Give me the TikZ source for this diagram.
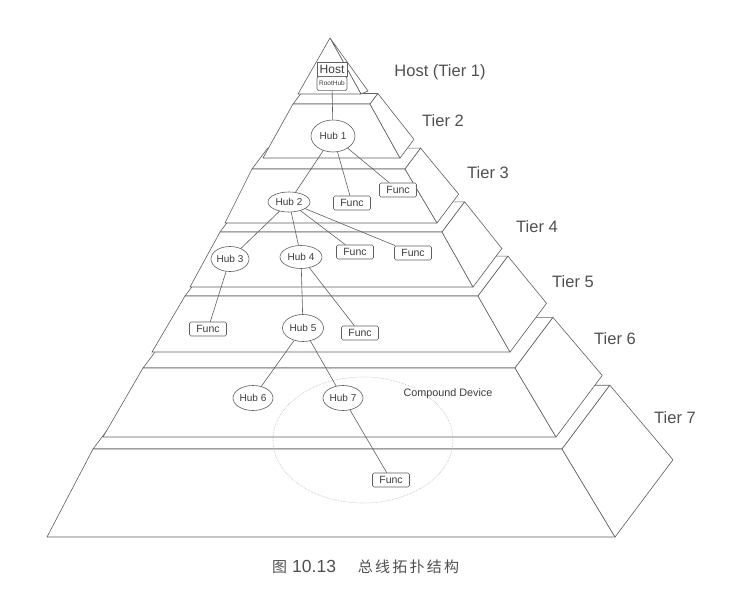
\documentclass[tikz,border=0pt]{standalone}
\usepackage{fontspec}
\setmainfont{Liberation Sans}
\newfontfamily\cjkfont[LetterSpace=15]{Noto Sans CJK SC}
\definecolor{linegray}{RGB}{95,95,95}
\definecolor{textgray}{RGB}{60,60,60}
\definecolor{labelgray}{RGB}{80,80,80}
\definecolor{ringgray}{RGB}{185,185,185}
\usepackage{tikz}
\usetikzlibrary{shapes,arrows,positioning,calc}

\begin{document}
\begin{tikzpicture}[x=1pt, y=-1pt, line join=round,
    every node/.style={font=\fontsize{10}{12}\selectfont, text=textgray},
    slab/.style={draw=linegray, fill=white, line width=0.6pt},
    hubnode/.style={ellipse, draw=linegray, fill=white, line width=0.6pt, minimum width=40pt, minimum height=24pt, inner sep=0pt},
    funcnode/.style={rectangle, draw=linegray, fill=white, rounded corners=1.5pt, line width=0.6pt, minimum width=37pt, minimum height=14pt, inner sep=0pt, font=\fontsize{10.5}{12}\selectfont},
    tierlabel/.style={font=\fontsize{16.5}{18}\selectfont, text=labelgray},
    link/.style={draw=linegray, line width=0.6pt}]
    \fill[white] (0,0) rectangle (730,593);
    \useasboundingbox (0,0) rectangle (730,593);

    % Tiers, bottom first: front top y, front bottom y, top left/right x, bottom left/right x
    \foreach \yt/\yb/\xlt/\xrt/\xlb/\xrb in {449/537/93/562/47/615, 368/437/143/515/103/556, 296/352/185/478/152/510, 232/287/220/442/190/473, 169/223/252/405/225/437, 104/158/293/370/263/400}{
        \pgfmathsetmacro{\wt}{\xrt-\xlt}
        \pgfmathsetmacro{\wb}{\xrb-\xlb}
        \draw[slab] (\xlt,\yt) -- ({\xlt+0.102*\wt},{\yt-0.136*\wt}) -- ({\xrt+0.102*\wt},{\yt-0.136*\wt}) -- (\xrt,\yt) -- cycle;
        \draw[slab] (\xlt,\yt) -- (\xrt,\yt) -- (\xrb,\yb) -- (\xlb,\yb) -- cycle;
        \draw[slab] (\xrt,\yt) -- ({\xrt+0.102*\wt},{\yt-0.136*\wt}) -- ({\xrb+0.102*\wb},{\yb-0.136*\wb}) -- (\xrb,\yb) -- cycle;
    }
    % Top of the pyramid
    \draw[slab] (330,38) -- (368,91) -- (361,94) -- cycle;
    \draw[slab] (330,38) -- (361,94) -- (298,94) -- cycle;

    % Compound device ring
    \draw[ringgray, densely dotted, line width=0.6pt] (363,440) ellipse [x radius=90, y radius=63];
    \node[font=\fontsize{10.8}{12}\selectfont] (compound) at (448,394) {Compound Device};

    % Host box
    \node[draw=linegray, fill=white, line width=0.6pt, minimum width=30pt, minimum height=14pt, inner sep=0pt, font=\fontsize{12}{13}\selectfont] (host) at (332,69) {Host};
    \node[draw=linegray, fill=white, line width=0.6pt, rounded corners=2pt, minimum width=30pt, minimum height=14pt, inner sep=0pt, font=\fontsize{6.5}{7}\selectfont, below=0pt of host] (roothub) {RootHub};

    % Hubs
    \node[hubnode, minimum width=44pt, minimum height=32pt] (hub1) at (333,136) {Hub 1};
    \node[hubnode, minimum width=42pt, minimum height=20pt] (hub2) at (289,202) {Hub 2};
    \node[hubnode, minimum width=38pt, minimum height=25pt] (hub3) at (230,259) {Hub 3};
    \node[hubnode, minimum width=42pt, minimum height=23pt] (hub4) at (301,257) {Hub 4};
    \node[hubnode, minimum width=41pt, minimum height=27pt] (hub5) at (303,328) {Hub 5};
    \node[hubnode, minimum height=25pt] (hub6) at (253,398) {Hub 6};
    \node[hubnode, minimum height=25pt] (hub7) at (343,398) {Hub 7};

    % Functions
    \node[funcnode] (func3a) at (352,203) {Func};
    \node[funcnode] (func3b) at (398,190) {Func};
    \node[funcnode] (func4a) at (355,252) {Func};
    \node[funcnode] (func4b) at (413,253) {Func};
    \node[funcnode] (func5a) at (208,329) {Func};
    \node[funcnode] (func5b) at (360,333) {Func};
    \node[funcnode] (func7) at (391,480) {Func};

    % Bus links
    \draw[link] (roothub) -- (hub1);
    \draw[link] (hub1) -- (hub2);
    \draw[link] (hub1) -- (func3a);
    \draw[link] (hub1) -- (func3b);
    \draw[link] (hub2) -- (hub3);
    \draw[link] (hub2) -- (hub4);
    \draw[link] (hub2) -- (func4a);
    \draw[link] (hub2) -- (func4b);
    \draw[link] (hub3) -- (func5a);
    \draw[link] (hub4) -- (hub5);
    \draw[link] (hub4) -- (func5b);
    \draw[link] (hub5) -- (hub6);
    \draw[link] (hub5) -- (hub7);
    \draw[link] (hub7) -- (func7);

    % Tier labels
    \node[tierlabel] (tier1) at (440,72) {Host (Tier 1)};
    \node[tierlabel] (tier2) at (443,121) {Tier 2};
    \node[tierlabel] (tier3) at (488,173) {Tier 3};
    \node[tierlabel] (tier4) at (537,227) {Tier 4};
    \node[tierlabel] (tier5) at (573,282) {Tier 5};
    \node[tierlabel] (tier6) at (615,339) {Tier 6};
    \node[tierlabel] (tier7) at (675,418) {Tier 7};

    % Caption
    \node[font=\fontsize{15}{17}\selectfont, text=labelgray, anchor=west, inner sep=0pt] (caption) at (272,567) {{\cjkfont 图}\hspace{5pt}{\fontsize{17.5}{19}\selectfont 10.13}\hspace{22pt}{\cjkfont 总线拓扑结构}};
\end{tikzpicture}
\end{document}
